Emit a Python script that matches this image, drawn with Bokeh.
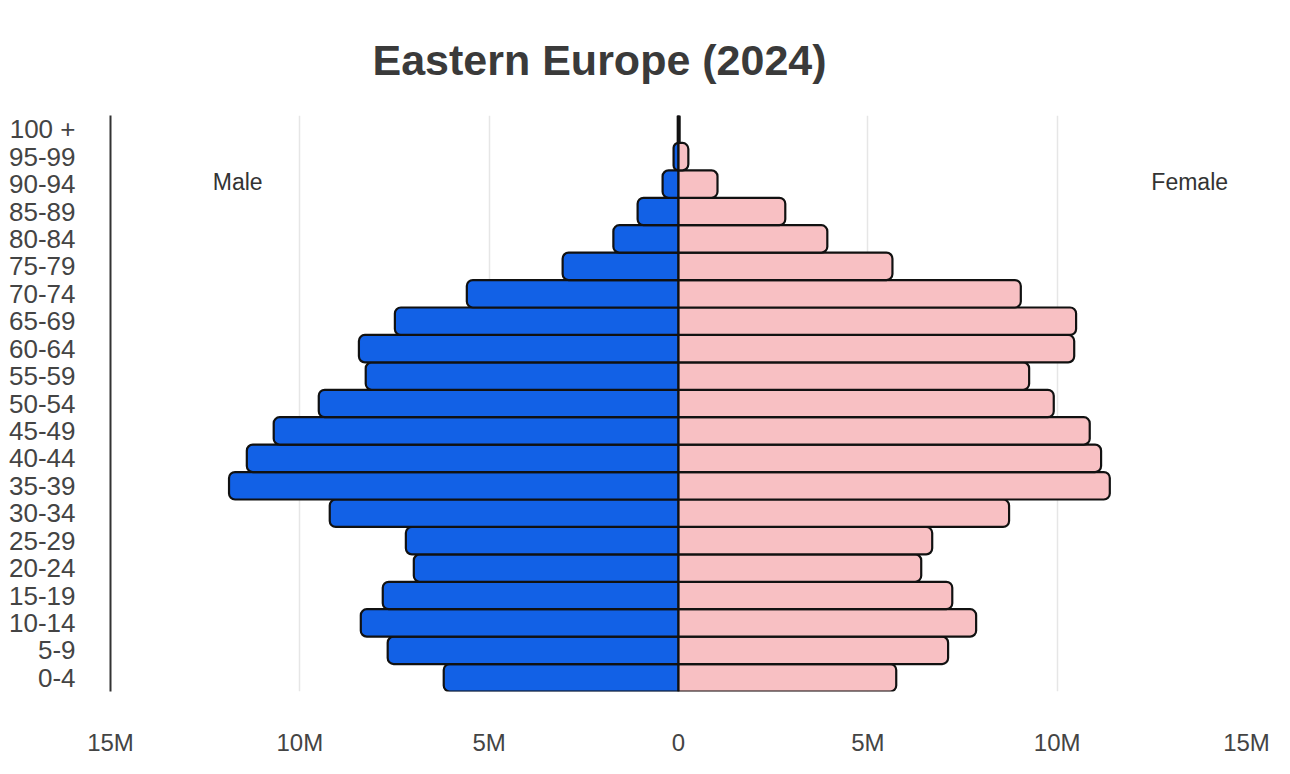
from bokeh.plotting import figure
from bokeh.models import FixedTicker, CustomJSTickFormatter, Label, ColumnDataSource
from bokeh.embed import file_html
from bokeh.resources import INLINE

age_groups = ["0-4", "5-9", "10-14", "15-19", "20-24", "25-29", "30-34", "35-39",
              "40-44", "45-49", "50-54", "55-59", "60-64", "65-69", "70-74",
              "75-79", "80-84", "85-89", "90-94", "95-99", "100 +"]
male = [6.20e6, 7.68e6, 8.39e6, 7.81e6, 6.99e6, 7.20e6, 9.21e6, 11.87e6,
        11.40e6, 10.69e6, 9.50e6, 8.26e6, 8.44e6, 7.49e6, 5.59e6,
        3.06e6, 1.72e6, 1.08e6, 0.42e6, 0.13e6, 0.02e6]
female = [5.75e6, 7.12e6, 7.86e6, 7.23e6, 6.41e6, 6.70e6, 8.73e6, 11.39e6,
          11.16e6, 10.86e6, 9.91e6, 9.26e6, 10.45e6, 10.50e6, 9.04e6,
          5.65e6, 3.93e6, 2.82e6, 1.03e6, 0.26e6, 0.03e6]
x_ticks = [-15e6, -10e6, -5e6, 0, 5e6, 10e6, 15e6]
title_text = "Eastern Europe (2024)"

src = ColumnDataSource(dict(age=age_groups, male=[-m for m in male], female=female))

p = figure(width=1274, height=758, y_range=age_groups, x_range=(-15e6, 15e6),
           output_backend="svg", toolbar_location=None,
           min_border_left=110, min_border_right=28, min_border_top=115, min_border_bottom=66)
p.y_range.range_padding = 0
p.outline_line_color = None

p.hbar(y="age", left="male", right=0, height=1.0, source=src,
       fill_color="#1261e6", line_color="#111111", line_width=2.2,
       border_radius=(6, 0, 0, 6))
p.hbar(y="age", left=0, right="female", height=1.0, source=src,
       fill_color="#f8c0c3", line_color="#111111", line_width=2.2,
       border_radius=(0, 6, 6, 0))

p.title.text = title_text
p.title.text_font = "Liberation Sans"
p.title.text_font_size = "43px"
p.title.text_font_style = "bold"
p.title.text_color = "#3a3a3a"
p.title.align = "left"
p.title.offset = 262
p.title.standoff = 63

p.xaxis.ticker = FixedTicker(ticks=x_ticks)
p.xaxis.formatter = CustomJSTickFormatter(code="return tick == 0 ? '0' : Math.abs(tick/1e6) + 'M';")
p.xaxis.axis_line_color = None
p.xaxis.major_tick_line_color = None
p.xaxis.minor_tick_line_color = None
p.xaxis.major_label_text_font = "Liberation Sans"
p.xaxis.major_label_text_font_size = "24px"
p.xaxis.major_label_text_color = "#444444"
p.xaxis.major_label_standoff = 31

p.yaxis.axis_line_color = "#333333"
p.yaxis.axis_line_width = 2
p.yaxis.major_tick_line_color = None
p.yaxis.minor_tick_line_color = None
p.yaxis.major_label_text_font = "Liberation Sans"
p.yaxis.major_label_text_font_size = "26px"
p.yaxis.major_label_text_color = "#444444"
p.yaxis.major_label_standoff = 29

p.xgrid.ticker = FixedTicker(ticks=x_ticks)
p.xgrid.grid_line_color = "#e6e6e6"
p.xgrid.grid_line_width = 1.5
p.ygrid.grid_line_color = None

p.add_layout(Label(x=-11.64e6, y=18.58, text="Male", text_align="center",
                   text_baseline="middle", text_font="Liberation Sans",
                   text_font_size="23px", text_color="#333333"))
p.add_layout(Label(x=13.5e6, y=18.58, text="Female", text_align="center",
                   text_baseline="middle", text_font="Liberation Sans",
                   text_font_size="23px", text_color="#333333"))

open("out.html", "w").write(file_html(p, INLINE))
